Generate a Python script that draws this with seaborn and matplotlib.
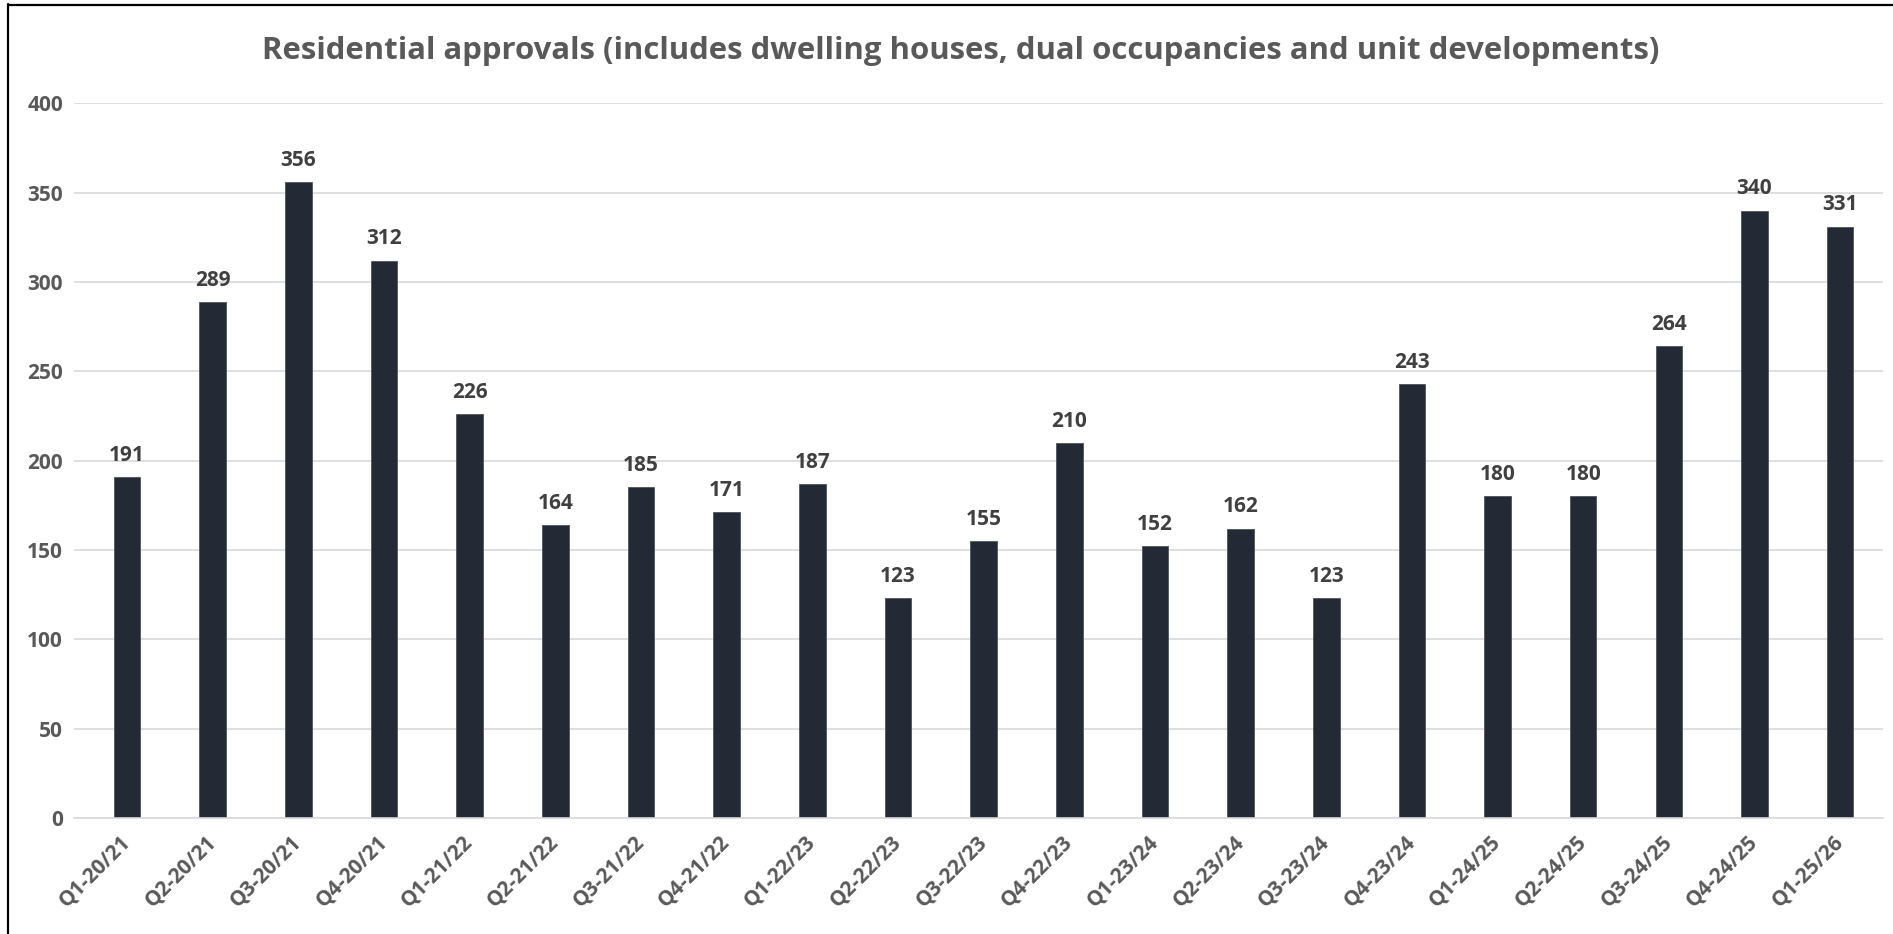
import pandas as pd
import matplotlib.pyplot as plt
from matplotlib.lines import Line2D
import seaborn as sns

# Dados
quarters = ['Q1-20/21', 'Q2-20/21', 'Q3-20/21', 'Q4-20/21',
            'Q1-21/22', 'Q2-21/22', 'Q3-21/22', 'Q4-21/22',
            'Q1-22/23', 'Q2-22/23', 'Q3-22/23', 'Q4-22/23',
            'Q1-23/24', 'Q2-23/24', 'Q3-23/24', 'Q4-23/24',
            'Q1-24/25', 'Q2-24/25', 'Q3-24/25', 'Q4-24/25',
            'Q1-25/26']
approvals = [191, 289, 356, 312, 226, 164, 185, 171, 187, 123, 155,
             210, 152, 162, 123, 243, 180, 180, 264, 340, 331]
y_ticks = [0, 50, 100, 150, 200, 250, 300, 350, 400]

df = pd.DataFrame({'Quarter': quarters, 'Approvals': approvals})

sns.set_theme(style="white")
plt.rcParams['font.family'] = ['Open Sans', 'DejaVu Sans']

W, H = 1893, 934
fig = plt.figure(figsize=(W / 100, H / 100), dpi=100)
ax = fig.add_axes([74 / W, 1 - 818 / H, (1883 - 74) / W, (818 - 103.3) / H])

sns.barplot(data=df, x='Quarter', y='Approvals', color='#232a35',
            saturation=1, width=0.31, edgecolor='#4d545e', linewidth=0.6, ax=ax)

ax.bar_label(ax.containers[0], labels=[str(v) for v in approvals], padding=8,
             fontsize=15, fontweight='bold', color='#404040')

ax.set_ylim(0, 400)
ax.set_xlim(-0.62, len(quarters) - 0.5)
ax.set_yticks(y_ticks)
ax.yaxis.grid(True, color='#d9d9d9', linewidth=1.2)
ax.set_axisbelow(True)
for s in ['top', 'right', 'left']:
    ax.spines[s].set_visible(False)
ax.spines['bottom'].set_color('#d9d9d9')
ax.spines['bottom'].set_linewidth(1.2)

ax.set_xlabel('')
ax.set_ylabel('')
ax.tick_params(axis='y', length=0, pad=8, labelsize=15, labelcolor='#595959')
ax.tick_params(axis='x', length=0, pad=15, labelsize=15, labelcolor='#595959')
for lbl in ax.get_yticklabels():
    lbl.set_fontweight('bold')
for lbl in ax.get_xticklabels():
    lbl.set_rotation(45)
    lbl.set_ha('right')
    lbl.set_va('center')
    lbl.set_rotation_mode('anchor')
    lbl.set_fontweight('bold')

fig.text(961 / W, 1 - 51 / H,
         'Residential approvals (includes dwelling houses, dual occupancies and unit developments)',
         ha='center', va='center', fontsize=22.4, fontweight='bold', color='#595959')

# Moldura (só esquerda e topo aparecem no recorte)
fig.add_artist(Line2D([8 / W, 8 / W], [0, 1 - 4 / H], color='black', linewidth=1.6,
                      transform=fig.transFigure))
fig.add_artist(Line2D([8 / W, 1], [1 - 4.5 / H, 1 - 4.5 / H], color='black', linewidth=1.6,
                      transform=fig.transFigure))

plt.savefig('out.png', dpi=100, facecolor='white')
plt.close()
